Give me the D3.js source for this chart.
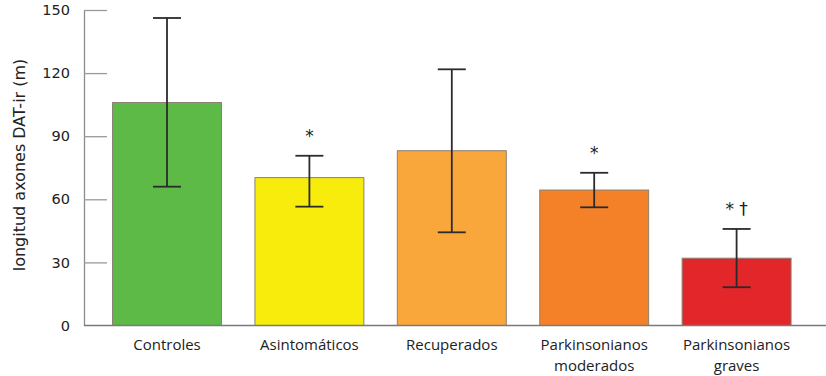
<!DOCTYPE html>
<html>
<head>
<meta charset="utf-8">
<script src="https://cdn.jsdelivr.net/npm/d3@7"></script>
<style>
  html, body { margin: 0; padding: 0; background: #fff; }
  svg { display: block; }
</style>
</head>
<body>
<svg id="chart" width="826" height="376"></svg>
<script>
// Longitud media de axones DAT-ir por grupo, con barras de error
const categories = [
  ["Controles"],
  ["Asintomáticos"],
  ["Recuperados"],
  ["Parkinsonianos", "moderados"],
  ["Parkinsonianos", "graves"]
];
const means = [106, 70.3, 83.1, 64.4, 32.0];
const errHigh = [146.2, 80.7, 121.8, 72.6, 45.9];
const errLow = [66.0, 56.5, 44.3, 56.2, 18.2];
const marks = ["", "*", "", "*", "* †"];
const yTicks = [0, 30, 60, 90, 120, 150];
const colors = ["#5dba47", "#f7ec0b", "#f9a73b", "#f48128", "#e2262a"];

const svg = d3.select("#chart");

const y = d3.scaleLinear().domain([0, 150]).range([325.5, 10]);
const x = d3.scaleBand()
  .domain(d3.range(categories.length))
  .range([95.8, 807.8])
  .paddingInner(0.235)
  .paddingOuter(0.1175);

// Eje Y
const yAxis = d3.axisLeft(y).tickValues(yTicks).tickSize(0).tickPadding(14);
const gy = svg.append("g").attr("transform", "translate(84,0)").call(yAxis);
gy.select(".domain").attr("stroke", "#8c8c8c").attr("stroke-width", 1.3);
gy.selectAll(".tick text")
  .attr("font-family", "'DejaVu Sans', sans-serif")
  .attr("font-size", 14.5)
  .attr("fill", "#222");
gy.selectAll(".tick").filter(d => d > 0).append("line")
  .attr("x1", 0).attr("x2", 23)
  .attr("stroke", "#9a9a9a").attr("stroke-width", 1.3);

// Título del eje Y
svg.append("text")
  .attr("transform", "translate(25,165) rotate(-90)")
  .attr("text-anchor", "middle")
  .attr("font-family", "'DejaVu Sans', sans-serif")
  .attr("font-size", 16)
  .attr("fill", "#222")
  .text("longitud axones DAT-ir  (m)");

// Barras
svg.append("g").selectAll("rect")
  .data(means)
  .join("rect")
  .attr("x", (d, i) => x(i))
  .attr("width", x.bandwidth())
  .attr("y", d => y(d))
  .attr("height", d => y(0) - y(d))
  .attr("fill", (d, i) => colors[i])
  .attr("stroke", "#8a8072")
  .attr("stroke-width", 1);

// Línea base
svg.append("line")
  .attr("x1", 84).attr("x2", 826)
  .attr("y1", y(0)).attr("y2", y(0))
  .attr("stroke", "#7a7a7a").attr("stroke-width", 1.5);

// Barras de error
const capHalf = 14;
const eg = svg.append("g").attr("stroke", "#2b2b2b").attr("stroke-width", 1.8);
means.forEach((m, i) => {
  const cx = x(i) + x.bandwidth() / 2;
  eg.append("line").attr("x1", cx).attr("x2", cx).attr("y1", y(errHigh[i])).attr("y2", y(errLow[i]));
  eg.append("line").attr("x1", cx - capHalf).attr("x2", cx + capHalf).attr("y1", y(errHigh[i])).attr("y2", y(errHigh[i]));
  eg.append("line").attr("x1", cx - capHalf).attr("x2", cx + capHalf).attr("y1", y(errLow[i])).attr("y2", y(errLow[i]));
});

// Marcas de significación
svg.append("g").selectAll("text")
  .data(marks)
  .join("text")
  .attr("x", (d, i) => x(i) + x.bandwidth() / 2)
  .attr("y", (d, i) => y(errHigh[i]) - 14)
  .attr("text-anchor", "middle")
  .attr("font-family", "'DejaVu Sans', sans-serif")
  .attr("font-size", 17)
  .attr("fill", "#222")
  .text(d => d);

// Etiquetas de categoría
const lg = svg.append("g")
  .attr("font-family", "'Open Sans', 'Liberation Sans', sans-serif")
  .attr("font-size", 15)
  .attr("fill", "#222")
  .attr("text-anchor", "middle");
categories.forEach((lines, i) => {
  const cx = x(i) + x.bandwidth() / 2;
  lines.forEach((t, j) => {
    lg.append("text").attr("x", cx).attr("y", 350 + j * 21).text(t);
  });
});
</script>
</body>
</html>
